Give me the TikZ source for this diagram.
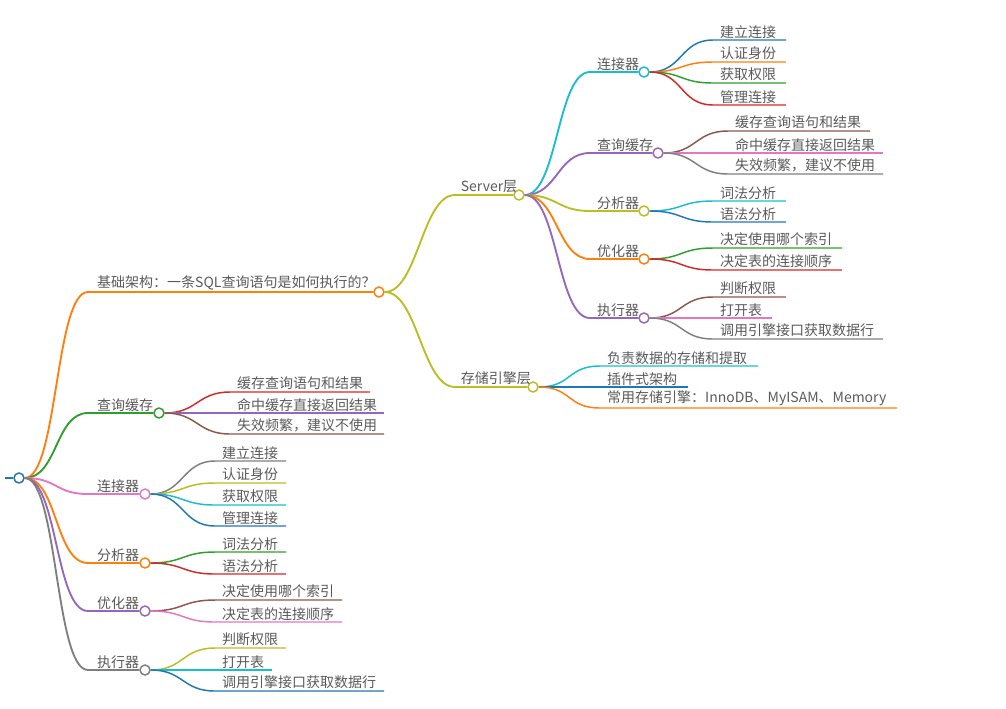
\documentclass[tikz,border=0pt]{standalone}
\usepackage{fontspec}
\newfontfamily\cjk{Noto Sans CJK SC}
\definecolor{cBlue}{HTML}{1F77B4}
\definecolor{cOrange}{HTML}{FF7F0E}
\definecolor{cGreen}{HTML}{2CA02C}
\definecolor{cRed}{HTML}{D62728}
\definecolor{cPurple}{HTML}{9467BD}
\definecolor{cBrown}{HTML}{8C564B}
\definecolor{cPink}{HTML}{E377C2}
\definecolor{cGray}{HTML}{7F7F7F}
\definecolor{cOlive}{HTML}{BCBD22}
\definecolor{cCyan}{HTML}{17BECF}
\definecolor{txt}{HTML}{5A5A5A}
\tikzset{every picture/.style={line width=0.75pt}}

\begin{document}
\begin{tikzpicture}[x=0.75pt,y=0.75pt,yscale=-1,xscale=1,
  link/.style={to path={.. controls +(33,0) and +(-33,0) .. (\tikztotarget)}},
  main/.style={line width=1.4pt},
  leaf/.style={line width=1.1pt},
  dot/.style={circle,draw,fill=white,inner sep=0pt,minimum size=7.5pt,line width=1.1pt},
  lbl/.style={anchor=south west,inner sep=1pt,xshift=4pt,text=txt,font=\cjk\fontsize{10.5}{12}\selectfont}]
\useasboundingbox (0,0) rectangle (1006,708);

% root
\draw [cBlue,line width=2.2pt] (5,478) -- (13,478);
\node [dot,draw=cBlue] (R) at (19,478) {};

% first level
\node [dot,draw=cOrange] (A) at (379,292) {};
\node [dot,draw=cGreen] (B) at (159,413) {};
\node [dot,draw=cPink] (C) at (145,494) {};
\node [dot,draw=cOrange] (D) at (145,563) {};
\node [dot,draw=cPurple] (E) at (145,611) {};
\node [dot,draw=cGray] (F) at (145,670) {};
\foreach \n/\y/\c/\t in {A/292/cOrange/基础架构：一条SQL查询语句是如何执行的？,
    B/413/cGreen/查询缓存, C/494/cPink/连接器, D/563/cOrange/分析器,
    E/611/cPurple/优化器, F/670/cGray/执行器}{
  \coordinate (\n0) at (88,\y);
  \draw [main,color=\c] (R.east) to[link] (\n0) -- (\n.west);
  \node [lbl,xshift=1.5pt] (\n t) at (\n0) {\t};
}

% server layer and storage layer
\node [dot,draw=cOlive] (S) at (519,195) {};
\node [dot,draw=cOlive] (G) at (533,387) {};
\foreach \n/\y/\t in {S/195/Server层, G/387/存储引擎层}{
  \coordinate (\n0) at (455,\y);
  \draw [main,cOlive] (A.east) to[link] (\n0) -- (\n.west);
  \node [lbl,xshift=-1pt] (\n t) at (\n0) {\t};
}

% modules of the server layer
\node [dot,draw=cCyan] (SC) at (644,72) {};
\node [dot,draw=cPurple] (SQ) at (658,153) {};
\node [dot,draw=cOlive] (SA) at (644,211) {};
\node [dot,draw=cOrange] (SO) at (644,259) {};
\node [dot,draw=cPurple] (SE) at (644,318) {};
\foreach \n/\y/\c/\t in {SC/72/cCyan/连接器, SQ/153/cPurple/查询缓存,
    SA/211/cOlive/分析器, SO/259/cOrange/优化器, SE/318/cPurple/执行器}{
  \coordinate (\n0) at (590,\y);
  \draw [main,color=\c] (S.east) to[link] (\n0) -- (\n.west);
  \node [lbl] (\n t) at (\n0) {\t};
}

% leaves
\foreach \p/\xs/\y/\e/\c/\t [count=\i] in {
    SC/713/40/786/cBlue/建立连接, SC/713/62/786/cOrange/认证身份,
    SC/713/83/786/cGreen/获取权限, SC/713/105/786/cRed/管理连接,
    SQ/728/131/870/cBrown/缓存查询语句和结果, SQ/728/153/883/cPink/命中缓存直接返回结果,
    SQ/728/174/883/cGray/失效频繁，建议不使用,
    SA/713/201/786/cCyan/词法分析, SA/713/222/786/cBlue/语法分析,
    SO/713/248/842/cGreen/决定使用哪个索引, SO/713/270/842/cRed/决定表的连接顺序,
    SE/713/297/786/cBrown/判断权限, SE/713/318/772/cPink/打开表,
    SE/713/339/883/cGray/调用引擎接口获取数据行,
    G/600/366/758/cCyan/负责数据的存储和提取, G/600/387/688/cBlue/插件式架构,
    G/600/408/897/cOrange/常用存储引擎：InnoDB、MyISAM、Memory,
    B/230/392/370/cRed/缓存查询语句和结果, B/230/413/384/cPurple/命中缓存直接返回结果,
    B/230/434/384/cBrown/失效频繁，建议不使用,
    C/215/461/286/cGray/建立连接, C/215/483/286/cOlive/认证身份,
    C/215/505/286/cCyan/获取权限, C/215/526/286/cBlue/管理连接,
    D/215/552/286/cGreen/词法分析, D/215/574/286/cRed/语法分析,
    E/215/600/342/cBrown/决定使用哪个索引, E/215/622/342/cPink/决定表的连接顺序,
    F/215/648/286/cOlive/判断权限, F/215/670/272/cCyan/打开表,
    F/215/691/384/cBlue/调用引擎接口获取数据行}{
  \coordinate (l\i) at (\xs,\y);
  \draw [leaf,color=\c] (\p.east) to[link] (l\i) -- (\e,\y);
  \node [lbl] (t\i) at (l\i) {\t};
}

\end{tikzpicture}
\end{document}
